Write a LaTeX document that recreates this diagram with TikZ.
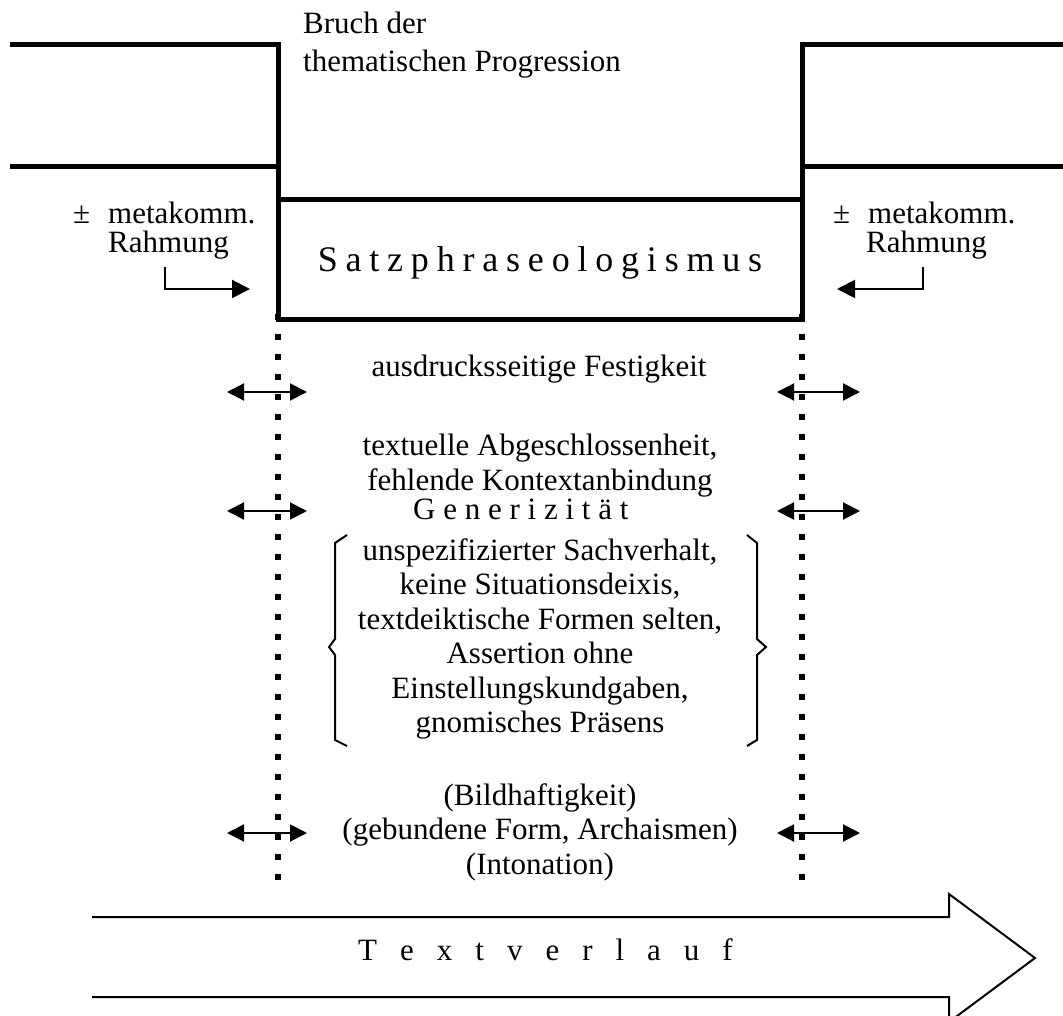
\documentclass[tikz,border=0pt]{standalone}
\usepackage{fontspec}
\setmainfont{Liberation Serif}
\usetikzlibrary{arrows.meta}
\makeatletter
\newcommand\spreadtxt[2]{\@tfor\sp@ch:=#2\do{\sp@ch\kern#1}\unkern}
\makeatother
\begin{document}
\begin{tikzpicture}[x=1pt,y=-1pt,
  txt/.style={inner sep=0pt, font=\fontsize{31}{34.4}\selectfont, anchor=base},
  txtw/.style={txt, anchor=base west},
  heavy/.style={line width=5pt, line join=miter},
  thinline/.style={line width=2pt},
  dbl/.style={thinline, {Triangle[length=17pt,width=17pt]}-{Triangle[length=17pt,width=17pt]}},
  sarrow/.style={thinline, -{Triangle[length=18pt,width=18pt]}},
  dotline/.style={line width=6pt, dash pattern=on 6pt off 14pt}
]
\useasboundingbox (0,0) rectangle (1063,1016);
\clip (0,0) rectangle (1063,1016);

% coordinates
\coordinate (TL) at (10,45);
\coordinate (ML) at (10,167);
\coordinate (TR) at (1063,45);
\coordinate (MR) at (1063,167);
\coordinate (BTL) at (278,200);
\coordinate (BTR) at (802,200);
\coordinate (BBL) at (278,320);
\coordinate (BBR) at (802,320);

% dotted verticals
\coordinate (DL1) at (278,314); \coordinate (DL2) at (278,884);
\coordinate (DR1) at (802,314); \coordinate (DR2) at (802,884);
\draw[dotline] (DL1) -- (DL2);
\draw[dotline] (DR1) -- (DR2);

% heavy frame
\draw[heavy] (TL) -| (BBL) -- (BBR) |- (TR);
\draw[heavy] (ML) -- (278,167);
\draw[heavy] (802,167) -- (MR);
\draw[heavy] (BTL) -- (BTR);

% top label
\node[txtw] (bruch1) at (303,34) {Bruch der};
\node[txtw] (bruch2) at (303,72) {thematischen Progression};

% metakomm labels
\node[txtw] (pmL) at (73,224) {±};
\node[txtw] (mkL) at (108,224) {metakomm.};
\node[txtw] (rhL) at (108,253) {Rahmung};
\node[txtw] (pmR) at (833,224) {±};
\node[txtw] (mkR) at (868,224) {metakomm.};
\node[txtw] (rhR) at (866,253) {Rahmung};

\coordinate (aL0) at (165,267); \coordinate (aL1) at (250,289);
\coordinate (aR0) at (923,267); \coordinate (aR1) at (837,289);
\draw[sarrow] (aL0) |- (aL1);
\draw[sarrow] (aR0) |- (aR1);

% box text
\node[txt, font=\fontsize{36}{40}\selectfont] (sp) at (540,272) {\spreadtxt{7.8pt}{Satzphraseologismus}};

% double arrows
\foreach \yy/\nm in {392/a,511/b,833/c}{
  \coordinate (dl\nm1) at (227,\yy); \coordinate (dl\nm2) at (307,\yy);
  \coordinate (dr\nm1) at (777,\yy); \coordinate (dr\nm2) at (860,\yy);
  \draw[dbl] (dl\nm1) -- (dl\nm2);
  \draw[dbl] (dr\nm1) -- (dr\nm2);
}

% middle texts
\node[txt] (t1) at (539,376) {ausdrucksseitige Festigkeit};
\node[txt] (t2) at (540,455.6) {textuelle Abgeschlossenheit,};
\node[txt] (t3) at (540,490) {fehlende Kontextanbindung};
\node[txtw] (gen) at (413,519) {\spreadtxt{7.75pt}{Generizität}};
\node[txt] (b1) at (540,560) {unspezifizierter Sachverhalt,};
\node[txt] (b2) at (540,594.5) {keine Situationsdeixis,};
\node[txt] (b3) at (540,629) {textdeiktische Formen selten,};
\node[txt] (b4) at (540,663.5) {Assertion ohne};
\node[txt] (b5) at (540,698) {Einstellungskundgaben,};
\node[txt] (b6) at (540,732.5) {gnomisches Präsens};

% braces
\draw[thinline] (347,535) -- (335,543) -- (335,639) -- (329,647) -- (335,655) -- (335,740) -- (347,746);
\draw[thinline] (747,535) -- (757,543) -- (757,639) -- (766,647) -- (757,655) -- (757,740) -- (747,746);

\node[txt] (p1) at (540,805) {(Bildhaftigkeit)};
\node[txt] (p2) at (540,839.5) {(gebundene Form, Archaismen)};
\node[txt] (p3) at (540,874) {(Intonation)};

% big arrow
\draw[thinline, line join=miter] (92,917) -- (949,917) -- (949,894) -- (1035,958) -- (949,1022) -- (949,997) -- (92,997);
\node[txtw] (tv) at (358,960) {\spreadtxt{23pt}{Textverlauf}};
\end{tikzpicture}
\end{document}
